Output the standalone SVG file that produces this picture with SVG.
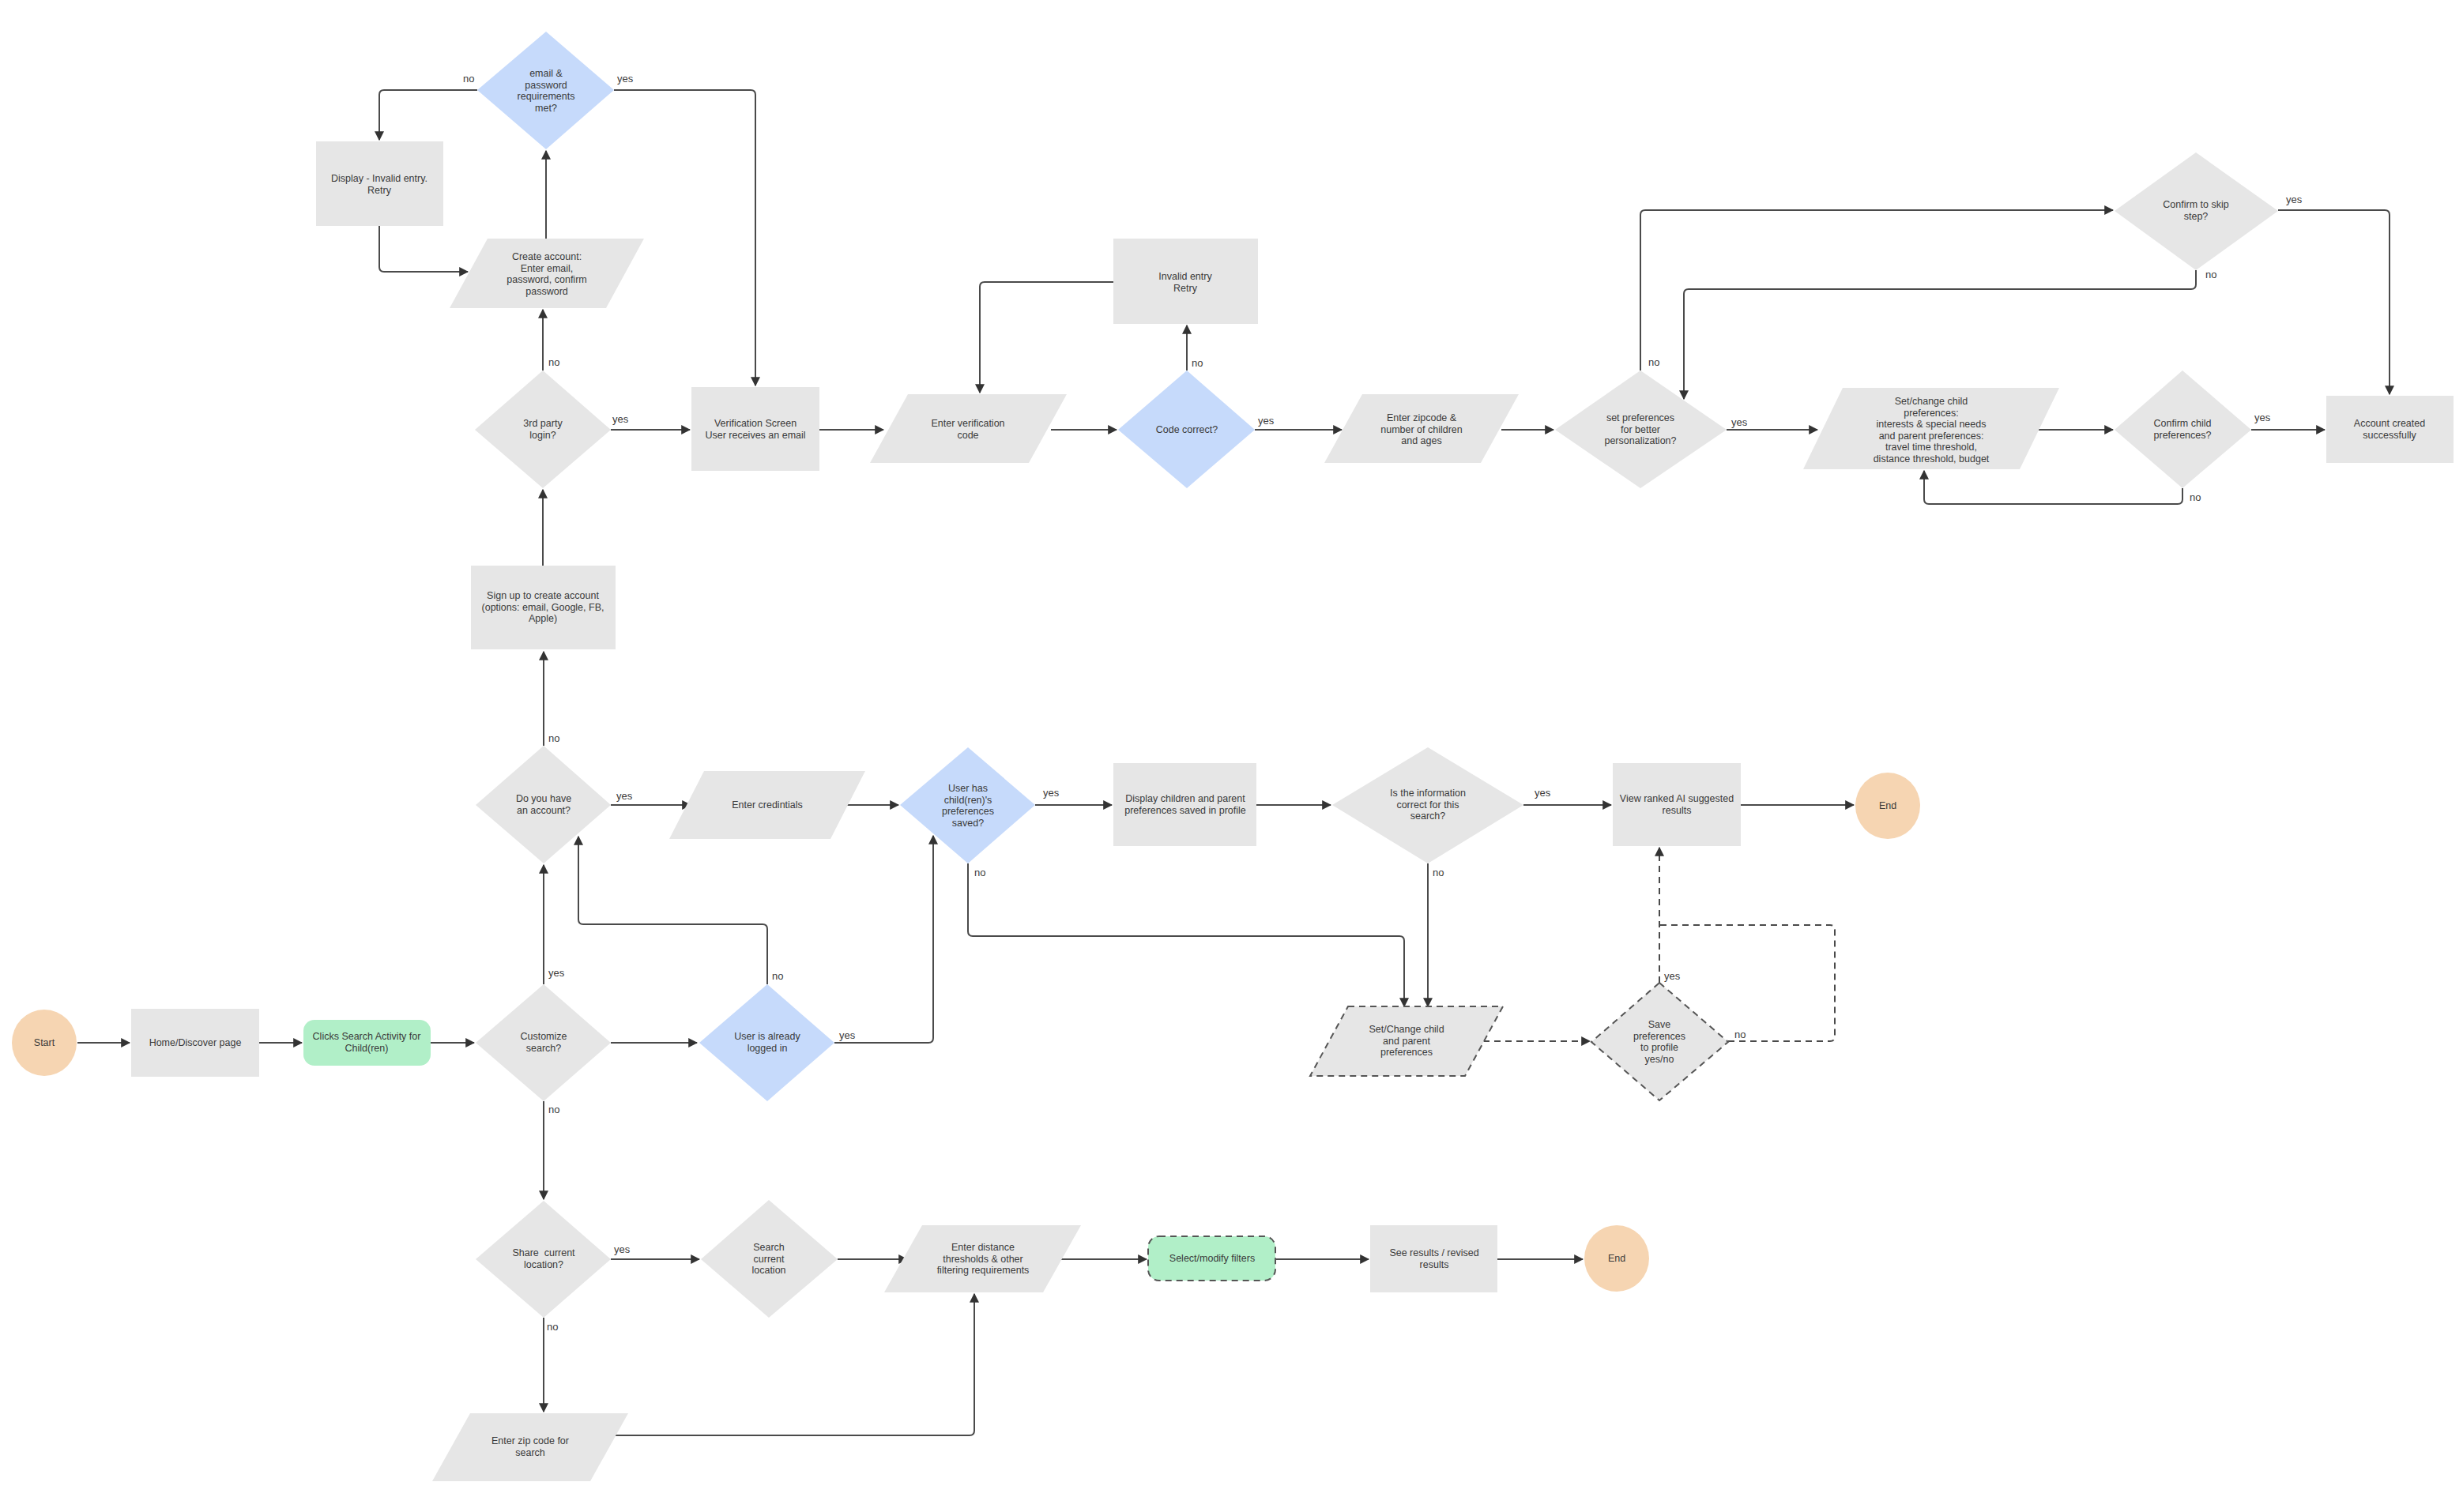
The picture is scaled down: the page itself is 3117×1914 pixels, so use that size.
<svg xmlns="http://www.w3.org/2000/svg" width="3117" height="1914" viewBox="0 0 3117 1914">
<style>
.g{fill:#e6e6e6}
.b{fill:#c6dafb}
.gr{fill:#b1efc8}
.o{fill:#f6d5b2}
.d{stroke:#555;stroke-width:2;stroke-dasharray:8 6}
text{font-family:"Liberation Sans",Arial,sans-serif;font-size:12.5px;fill:#3a3a3a;text-anchor:middle;white-space:pre}
.lb{font-size:13px;text-anchor:start}
.c path{fill:none;stroke:#4a4a4a;stroke-width:2;marker-end:url(#ar)}
.c path.ds{stroke-dasharray:8 6}
</style>
<defs>
<marker id="ar" viewBox="0 0 10 10" refX="9" refY="5" markerWidth="12" markerHeight="12" markerUnits="userSpaceOnUse" orient="auto">
<path d="M0,0 L10,5 L0,10 z" fill="#333"/>
</marker>
</defs>
<rect width="3117" height="1914" fill="#fff"/>

<g class="c" id="connectors">
<path d="M98,1320 H164"/>
<path d="M328,1320 H382"/>
<path d="M545,1320 H600"/>
<path d="M773,1320 H882"/>
<path d="M688,1246 V1095"/>
<path d="M971,1246 V1176 Q971,1170 965,1170 H738 Q732,1170 732,1164 V1059"/>
<path d="M1056,1320 H1175 Q1181,1320 1181,1314 V1058"/>
<path d="M688,1394 V1518"/>
<path d="M688,944 V825"/>
<path d="M773,1019 H874"/>
<path d="M1070,1019 H1137"/>
<path d="M1310,1019 H1407"/>
<path d="M1590,1019 H1684"/>
<path d="M1928,1019 H2039"/>
<path d="M2203,1019 H2346"/>
<path d="M1225,1093 V1179 Q1225,1185 1231,1185 H1771 Q1777,1185 1777,1191 V1274"/>
<path d="M1807,1093 V1274"/>
<path class="ds" d="M1877,1318 H2012"/>
<path class="ds" d="M2100,1244 V1073"/>
<path class="ds" d="M2187,1318 H2316 Q2322,1318 2322,1312 V1177 Q2322,1171 2316,1171 H2101" style="marker-end:none"/>
<path d="M687,716 V620"/>
<path d="M687,469 V392"/>
<path d="M691,302 V191"/>
<path d="M604,114 H486 Q480,114 480,120 V177"/>
<path d="M480,286 V338 Q480,344 486,344 H592"/>
<path d="M777,114 H950 Q956,114 956,120 V488"/>
<path d="M773,544 H873"/>
<path d="M1037,544 H1118"/>
<path d="M1409,357 H1246 Q1240,357 1240,363 V497"/>
<path d="M1330,544 H1413"/>
<path d="M1502,469 V412"/>
<path d="M1588,544 H1698"/>
<path d="M1900,544 H1966"/>
<path d="M2076,469 V272 Q2076,266 2082,266 H2674"/>
<path d="M2779,342 V360 Q2779,366 2773,366 H2137 Q2131,366 2131,372 V505"/>
<path d="M2883,266 H3018 Q3024,266 3024,272 V499"/>
<path d="M2185,544 H2300"/>
<path d="M2580,544 H2674"/>
<path d="M2849,544 H2942"/>
<path d="M2762,618 V632 Q2762,638 2756,638 H2441 Q2435,638 2435,632 V596"/>
<path d="M773,1594 H885"/>
<path d="M1060,1594 H1148"/>
<path d="M1340,1594 H1451"/>
<path d="M1614,1594 H1732"/>
<path d="M1895,1594 H2003"/>
<path d="M688,1668 V1787"/>
<path d="M770,1817 H1227 Q1233,1817 1233,1811 V1638"/>
</g>

<g id="labels">
<text class="lb" x="586" y="104">no</text>
<text class="lb" x="781" y="104">yes</text>
<text class="lb" x="694" y="463">no</text>
<text class="lb" x="775" y="535">yes</text>
<text class="lb" x="1508" y="464">no</text>
<text class="lb" x="1592" y="537">yes</text>
<text class="lb" x="2086" y="463">no</text>
<text class="lb" x="2191" y="539">yes</text>
<text class="lb" x="2791" y="352">no</text>
<text class="lb" x="2893" y="257">yes</text>
<text class="lb" x="2853" y="533">yes</text>
<text class="lb" x="2771" y="634">no</text>
<text class="lb" x="694" y="939">no</text>
<text class="lb" x="780" y="1012">yes</text>
<text class="lb" x="1320" y="1008">yes</text>
<text class="lb" x="1233" y="1109">no</text>
<text class="lb" x="1942" y="1008">yes</text>
<text class="lb" x="1813" y="1109">no</text>
<text class="lb" x="2106" y="1240">yes</text>
<text class="lb" x="2195" y="1314">no</text>
<text class="lb" x="694" y="1236">yes</text>
<text class="lb" x="977" y="1240">no</text>
<text class="lb" x="1062" y="1315">yes</text>
<text class="lb" x="694" y="1409">no</text>
<text class="lb" x="777" y="1586">yes</text>
<text class="lb" x="692" y="1684">no</text>
</g>

<g id="n-email"><polygon class="b" points="691,40 777,114 691,189 604,114"/><text x="691" y="97">email &amp;</text><text x="691" y="111.5">password</text><text x="691" y="126">requirements</text><text x="691" y="140.5">met?</text></g>
<g id="n-display-invalid"><rect class="g" x="400" y="179" width="161" height="107"/><text x="480" y="230">Display - Invalid entry.</text><text x="480" y="244.5">Retry</text></g>
<g id="n-create"><polygon class="g" points="617,302 815,302 767,390 569,390"/><text x="692" y="329">Create account:</text><text x="692" y="343.5">Enter email,</text><text x="692" y="358">password, confirm</text><text x="692" y="372.5">password</text></g>
<g id="n-3rdparty"><polygon class="g" points="687,469 773,544 687,618 601,544"/><text x="687" y="540">3rd party</text><text x="687" y="554.5">login?</text></g>
<g id="n-verif-screen"><rect class="g" x="875" y="490" width="162" height="106"/><text x="956" y="540">Verification Screen</text><text x="956" y="554.5">User receives an email</text></g>
<g id="n-enter-code"><polygon class="g" points="1149,499 1350,499 1302,586 1101,586"/><text x="1225" y="540">Enter verification</text><text x="1225" y="554.5">code</text></g>
<g id="n-code-correct"><polygon class="b" points="1502,469 1588,544 1502,618 1415,544"/><text x="1502" y="548">Code correct?</text></g>
<g id="n-invalid-retry"><rect class="g" x="1409" y="302" width="183" height="108"/><text x="1500" y="354">Invalid entry</text><text x="1500" y="368.5">Retry</text></g>
<g id="n-zipcode"><polygon class="g" points="1724,499 1922,499 1874,586 1676,586"/><text x="1799" y="533">Enter zipcode &amp;</text><text x="1799" y="547.5">number of children</text><text x="1799" y="562">and ages</text></g>
<g id="n-setpref"><polygon class="g" points="2076,469 2185,544 2076,618 1968,544"/><text x="2076" y="533">set preferences</text><text x="2076" y="547.5">for better</text><text x="2076" y="562">personalization?</text></g>
<g id="n-set-child"><polygon class="g" points="2332,491 2606,491 2556,594 2282,594"/><text x="2444" y="512">Set/change child</text><text x="2444" y="526.5">preferences:</text><text x="2444" y="541">interests &amp; special needs</text><text x="2444" y="555.5">and parent preferences:</text><text x="2444" y="570">travel time threshold,</text><text x="2444" y="584.5">distance threshold, budget</text></g>
<g id="n-confirm-child"><polygon class="g" points="2762,469 2849,544 2762,618 2676,544"/><text x="2762" y="540">Confirm child</text><text x="2762" y="554.5">preferences?</text></g>
<g id="n-account-created"><rect class="g" x="2944" y="501" width="161" height="85"/><text x="3024" y="540">Account created</text><text x="3024" y="554.5">successfully</text></g>
<g id="n-confirm-skip"><polygon class="g" points="2779,193 2883,267 2779,342 2676,267"/><text x="2779" y="263">Confirm to skip</text><text x="2779" y="277.5">step?</text></g>
<g id="n-signup"><rect class="g" x="596" y="716" width="183" height="106"/><text x="687" y="758">Sign up to create account</text><text x="687" y="772.5">(options: email, Google, FB,</text><text x="687" y="787">Apple)</text></g>
<g id="n-have-account"><polygon class="g" points="688,944 773,1019 688,1093 602,1019"/><text x="688" y="1015">Do you have</text><text x="688" y="1029.5">an account?</text></g>
<g id="n-credentials"><polygon class="g" points="891,976 1095,976 1051,1062 847,1062"/><text x="971" y="1023">Enter credintials</text></g>
<g id="n-user-has"><polygon class="b" points="1225,946 1310,1019 1225,1093 1139,1019"/><text x="1225" y="1002">User has</text><text x="1225" y="1016.5">child(ren)'s</text><text x="1225" y="1031">preferences</text><text x="1225" y="1045.5">saved?</text></g>
<g id="n-display-children"><rect class="g" x="1409" y="966" width="181" height="105"/><text x="1500" y="1015">Display children and parent</text><text x="1500" y="1029.5">preferences saved in profile</text></g>
<g id="n-info-correct"><polygon class="g" points="1807,946 1928,1019 1807,1093 1686,1019"/><text x="1807" y="1008">Is the information</text><text x="1807" y="1022.5">correct for this</text><text x="1807" y="1037">search?</text></g>
<g id="n-view-ranked"><rect class="g" x="2041" y="966" width="162" height="105"/><text x="2122" y="1015">View ranked AI suggested</text><text x="2122" y="1029.5">results</text></g>
<g id="n-end1"><ellipse class="o" cx="2389" cy="1020" rx="41" ry="42"/><text x="2389" y="1024">End</text></g>
<g id="n-set-change"><polygon class="g d" points="1706,1274 1902,1274 1854,1362 1658,1362"/><text x="1780" y="1307">Set/Change child</text><text x="1780" y="1321.5">and parent</text><text x="1780" y="1336">preferences</text></g>
<g id="n-save-pref"><polygon class="g d" points="2100,1244 2187,1319 2100,1393 2014,1319"/><text x="2100" y="1301">Save</text><text x="2100" y="1315.5">preferences</text><text x="2100" y="1330">to profile</text><text x="2100" y="1344.5">yes/no</text></g>
<g id="n-start"><ellipse class="o" cx="56" cy="1320" rx="41" ry="42"/><text x="56" y="1324">Start</text></g>
<g id="n-home"><rect class="g" x="166" y="1277" width="162" height="86"/><text x="247" y="1324">Home/Discover page</text></g>
<g id="n-clicks"><rect class="gr" x="384" y="1291" width="161" height="58" rx="14"/><text x="464" y="1316">Clicks Search Activity for</text><text x="464" y="1330.5">Child(ren)</text></g>
<g id="n-customize"><polygon class="g" points="688,1246 773,1320 688,1394 602,1320"/><text x="688" y="1316">Customize</text><text x="688" y="1330.5">search?</text></g>
<g id="n-logged-in"><polygon class="b" points="971,1246 1056,1320 971,1394 885,1320"/><text x="971" y="1316">User is already</text><text x="971" y="1330.5">logged in</text></g>
<g id="n-share"><polygon class="g" points="688,1520 773,1594 688,1668 602,1594"/><text x="688" y="1590">Share  current</text><text x="688" y="1604.5">location?</text></g>
<g id="n-search-current"><polygon class="g" points="973,1519 1060,1594 973,1668 887,1594"/><text x="973" y="1583">Search</text><text x="973" y="1597.5">current</text><text x="973" y="1612">location</text></g>
<g id="n-distance"><polygon class="g" points="1167,1551 1368,1551 1320,1636 1119,1636"/><text x="1244" y="1583">Enter distance</text><text x="1244" y="1597.5">thresholds &amp; other</text><text x="1244" y="1612">filtering requirements</text></g>
<g id="n-filters"><rect class="gr d" x="1453" y="1565" width="161" height="56" rx="14"/><text x="1534" y="1597">Select/modify filters</text></g>
<g id="n-see-results"><rect class="g" x="1734" y="1551" width="161" height="85"/><text x="1815" y="1590">See results / revised</text><text x="1815" y="1604.5">results</text></g>
<g id="n-end2"><ellipse class="o" cx="2046" cy="1593" rx="41" ry="42"/><text x="2046" y="1597">End</text></g>
<g id="n-zip-search"><polygon class="g" points="595,1789 795,1789 747,1875 547,1875"/><text x="671" y="1828">Enter zip code for</text><text x="671" y="1842.5">search</text></g>
</svg>
